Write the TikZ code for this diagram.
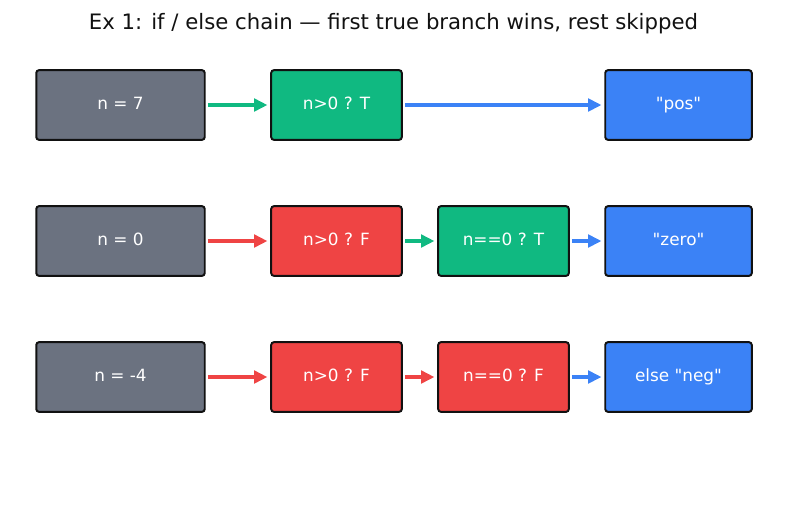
\documentclass[tikz,border=0pt]{standalone}
\usepackage{fontspec}
\setmainfont{DejaVu Sans}
\usetikzlibrary{arrows.meta}
\definecolor{cgray}{HTML}{6B7280}
\definecolor{cgreen}{HTML}{10B981}
\definecolor{cred}{HTML}{EF4444}
\definecolor{cblue}{HTML}{3B82F6}
\definecolor{edge}{HTML}{111111}
\newcommand{\qt}[1]{\textquotedbl#1\textquotedbl}
\tikzset{
  box/.style={draw=edge, line width=1.4pt, rounded corners=2pt, text=white,
    inner sep=0pt, minimum height=49.6pt, text height=8.5pt, text depth=2pt,
    font=\fontsize{12}{14}\selectfont},
  inbox/.style={box, minimum width=119.8pt, fill=cgray},
  testbox/.style={box, minimum width=92.9pt},
  resbox/.style={box, minimum width=104.2pt, fill=cblue},
  flow/.style={-{Triangle[length=9.5pt,width=9pt]}, line width=2.2pt,
    shorten <=1.5pt, shorten >=2pt}
}
\begin{document}
\begin{tikzpicture}[x=0.025cm, y=-0.025cm]
\useasboundingbox (0,0) rectangle (787,508);
\node[font=\fontsize{15.1}{17}\selectfont, text=edge] (title) at (393.5,23.5) {Ex 1: if / else chain — first true branch wins, rest skipped};

% n = 7
\node[inbox] (a1) at (120.5,105) {n = 7};
\node[testbox, fill=cgreen] (b1) at (336.5,105) {n>0 ? T};
\node[resbox] (d1) at (678.5,105) {\qt{pos}};

% n = 0
\node[inbox] (a2) at (120.5,241) {n = 0};
\node[testbox, fill=cred] (b2) at (336.5,241) {n>0 ? F};
\node[testbox, fill=cgreen] (c2) at (503.5,241) {n==0 ? T};
\node[resbox] (d2) at (678.5,241) {\qt{zero}};

% n = -4
\node[inbox] (a3) at (120.5,377) {n = -4};
\node[testbox, fill=cred] (b3) at (336.5,377) {n>0 ? F};
\node[testbox, fill=cred] (c3) at (503.5,377) {n==0 ? F};
\node[resbox] (d3) at (678.5,377) {else \qt{neg}};

\draw[flow, cgreen] (a1)--(b1);
\draw[flow, cblue] (b1)--(d1);

\draw[flow, cred] (a2)--(b2);
\draw[flow, cgreen] (b2)--(c2);
\draw[flow, cblue] (c2)--(d2);

\draw[flow, cred] (a3)--(b3);
\draw[flow, cred] (b3)--(c3);
\draw[flow, cblue] (c3)--(d3);
\end{tikzpicture}
\end{document}
